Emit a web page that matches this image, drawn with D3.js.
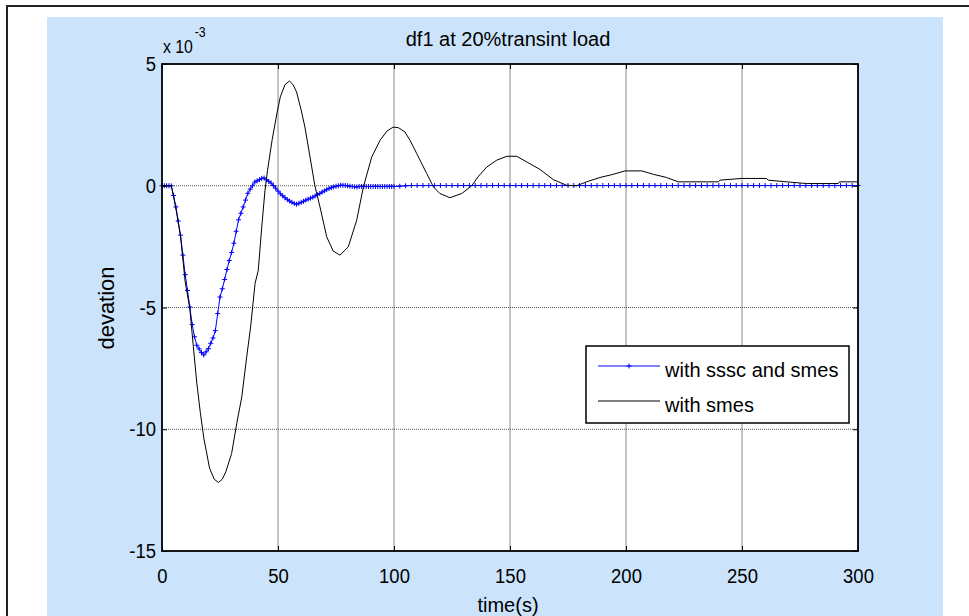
<!DOCTYPE html>
<html>
<head>
<meta charset="utf-8">
<script src="https://cdn.jsdelivr.net/npm/d3@7"></script>
<style>
  html, body { margin: 0; padding: 0; background: #ffffff; }
  svg { display: block; }
  text { font-family: "Liberation Sans", Arial, Helvetica, sans-serif; fill: #000; }
</style>
</head>
<body>
<script>
// ---------------- DATA (deviation in units of 1e-3) ----------------
const chartTitle = "df1 at 20%transint load";
const xLabel = "time(s)";
const yLabel = "devation";
const xTicks = [0, 50, 100, 150, 200, 250, 300];
const yTicks = [5, 0, -5, -10, -15];
const seriesNames = ["with sssc and smes", "with smes"];

// series 1: with sssc and smes (1 s samples up to 100 s, then 2.5 s)
const blueTime = [0,1,2,3,4,5,6,7,8,9,10,11,12,13,14,15,16,17,18,19,20,21,22,23,24,25,26,27,28,29,30,31,32,33,34,35,36,37,38,39,40,41,42,43,44,45,46,47,48,49,50,51,52,53,54,55,56,57,58,59,60,61,62,63,64,65,66,67,68,69,70,71,72,73,74,75,76,77,78,79,80,81,82,83,84,85,86,87,88,89,90,91,92,93,94,95,96,97,98,99,100,
  102.5,105,107.5,110,112.5,115,117.5,120,122.5,125,127.5,130,132.5,135,137.5,140,142.5,145,147.5,150,152.5,155,157.5,160,162.5,165,167.5,170,172.5,175,177.5,180,182.5,185,187.5,190,192.5,195,197.5,200,202.5,205,207.5,210,212.5,215,217.5,220,222.5,225,227.5,230,232.5,235,237.5,240,242.5,245,247.5,250,252.5,255,257.5,260,262.5,265,267.5,270,272.5,275,277.5,280,282.5,285,287.5,290,292.5,295,297.5,300];
const blueDev = [0,0,0,0,0,-0.4,-0.87,-1.45,-2.03,-2.85,-3.65,-4.3,-4.98,-5.7,-6.2,-6.55,-6.7,-6.85,-6.95,-6.82,-6.69,-6.47,-6.25,-5.95,-5.25,-4.57,-4.23,-3.85,-3.44,-3.07,-2.74,-2.36,-1.87,-1.4,-1.13,-0.87,-0.59,-0.31,-0.14,0,0.15,0.2,0.25,0.3,0.32,0.25,0.18,0.11,0.01,-0.1,-0.22,-0.33,-0.41,-0.49,-0.57,-0.63,-0.68,-0.73,-0.76,-0.72,-0.68,-0.64,-0.59,-0.55,-0.51,-0.47,-0.42,-0.37,-0.32,-0.26,-0.21,-0.16,-0.11,-0.08,-0.05,-0.02,0,0.02,0.02,0.01,0,-0.02,-0.03,-0.04,-0.05,-0.03,-0.03,-0.03,-0.03,-0.03,-0.03,-0.03,-0.03,-0.03,-0.03,-0.03,-0.03,-0.03,-0.03,-0.03,-0.03,
  -0.02,0,0.01,0.01,0.01,0.01,0.01,0.01,0.01,0.01,0.01,0.01,0.01,0.01,0.01,0.01,0.01,0.01,0.01,0.01,0.01,0.01,0.01,0.01,0.01,0.01,0.01,0.01,0.01,0.01,0.01,0.01,0.01,0.01,0.01,0.01,0.01,0.01,0.01,0.01,0.01,0.01,0.01,0.01,0.01,0.01,0.01,0.01,0.01,0.01,0.01,0.01,0.01,0.01,0.01,0.01,0.01,0.01,0.01,0.01,0.01,0.01,0.01,0.01,0.01,0.01,0.01,0.01,0.01,0.01,0.01,0.01,0.01,0.01,0.01,0.01,0.01,0.01,0.01,0.01];

// series 2: with smes
const blackTime = [0,4,6,8,10,12,13.5,15,16.5,18,20.5,22.5,24.3,26,27.5,30,32.2,34.4,36.5,38.2,40.1,41.5,43,44.4,45.5,47.5,49.5,51,53,54.9,56.5,58,60,61.6,63.8,65.9,68.1,71,73.8,76.7,80.3,83.9,86.8,90.4,94,97,99.7,102,104.7,107,109.8,114.1,117,119.8,124.1,129.2,133.5,136.5,140,144.3,148.6,152.9,157.2,162.9,168.7,174.4,178.7,183,188.8,194.5,199.6,206.8,211.8,217.5,222.5,239.8,240.5,249.9,260.6,261.3,269.3,277.9,291.5,292,300];
const blackDev = [0,0,-0.94,-2.1,-3.95,-5.05,-6.6,-8.1,-9.3,-10.35,-11.6,-12.05,-12.19,-12.05,-11.75,-11.0,-9.77,-8.67,-7.03,-5.8,-4.02,-3.47,-1.69,-0.18,0.64,1.9,2.95,3.65,4.15,4.3,4.15,3.85,3.1,2.41,1.18,0,-0.87,-2.1,-2.68,-2.85,-2.51,-1.42,-0.05,1.18,1.87,2.25,2.41,2.38,2.21,1.85,1.32,0.5,-0.05,-0.32,-0.49,-0.32,0,0.4,0.77,1.05,1.21,1.21,0.98,0.67,0.25,0.02,0,0.16,0.34,0.47,0.61,0.61,0.47,0.34,0.16,0.16,0.23,0.3,0.3,0.23,0.16,0.09,0.09,0.16,0.16];

// ---------------- DRAWING ----------------
const W = 969, H = 616;
const svg = d3.select("body").append("svg").attr("width", W).attr("height", H);

// outer figure frame
svg.append("rect").attr("x", 7).attr("y", 6).attr("width", 1000).attr("height", 1000)
  .attr("fill", "#ffffff").attr("stroke", "#222").attr("stroke-width", 2);

// light blue figure panel
svg.append("rect").attr("x", 47).attr("y", 17).attr("width", 896).attr("height", 620)
  .attr("fill", "#cbe4fb");

const x = d3.scaleLinear().domain([0, 300]).range([162, 858]);
const y = d3.scaleLinear().domain([-15, 5]).range([551, 64]);

// plot background
svg.append("rect").attr("x", x(0)).attr("y", y(5))
  .attr("width", x(300) - x(0)).attr("height", y(-15) - y(5)).attr("fill", "#ffffff");

// grid lines
const grid = svg.append("g");
grid.selectAll("line.vg").data(xTicks.filter(d => d > 0 && d < 300)).join("line")
  .attr("x1", d => x(d)).attr("x2", d => x(d)).attr("y1", y(5)).attr("y2", y(-15))
  .attr("stroke", "#8a8a8a").attr("stroke-width", 1);
grid.selectAll("line.hg").data(yTicks.filter(d => d < 5 && d > -15)).join("line")
  .attr("x1", x(0)).attr("x2", x(300)).attr("y1", d => y(d)).attr("y2", d => y(d))
  .attr("stroke", "#555").attr("stroke-width", 1).attr("stroke-dasharray", "1,1");

// series
const line = d3.line().x(d => x(d[0])).y(d => y(d[1]));
const blueData = blueTime.map((t, i) => [t, blueDev[i]]);
const blackData = blackTime.map((t, i) => [t, blackDev[i]]);

svg.append("path").datum(blueData).attr("d", line)
  .attr("fill", "none").attr("stroke", "#0000ff").attr("stroke-width", 1);
const ms = 2.5;
svg.append("path")
  .attr("d", blueData.map(d => {
    const px = x(d[0]), py = y(d[1]);
    return `M${px - ms},${py}H${px + ms}M${px},${py - ms}V${py + ms}`;
  }).join(""))
  .attr("fill", "none").attr("stroke", "#0000ff").attr("stroke-width", 1);

svg.append("path").datum(blackData).attr("d", line)
  .attr("fill", "none").attr("stroke", "#000000").attr("stroke-width", 1);

// axes
const fmt = d => String(d);
const cond = 0.88; // horizontal condensing of tick text
const axB = svg.append("g").attr("transform", `translate(0,${y(-15)})`)
  .call(d3.axisBottom(x).tickValues(xTicks).tickFormat(fmt).tickSizeInner(-5).tickSizeOuter(0).tickPadding(17));
const axL = svg.append("g").attr("transform", `translate(${x(0)},0)`)
  .call(d3.axisLeft(y).tickValues(yTicks).tickFormat(fmt).tickSizeInner(-5).tickSizeOuter(0).tickPadding(6));
const axT = svg.append("g").attr("transform", `translate(0,${y(5)})`)
  .call(d3.axisTop(x).tickValues(xTicks).tickFormat("").tickSizeInner(-5).tickSizeOuter(0));
const axR = svg.append("g").attr("transform", `translate(${x(300)},0)`)
  .call(d3.axisRight(y).tickValues(yTicks).tickFormat("").tickSizeInner(-5).tickSizeOuter(0));
[axB, axL, axT, axR].forEach(a => {
  a.select(".domain").remove();
  a.selectAll(".tick line").attr("stroke", "#000");
  a.selectAll(".tick text").style("font-size", "21px")
    .style("font-family", '"Liberation Sans", Arial, sans-serif').attr("fill", "#000")
    .attr("transform", `scale(${cond},1)`);
});
axL.selectAll(".tick text").attr("x", -6 / cond);

// axes box
svg.append("rect").attr("x", x(0)).attr("y", y(5))
  .attr("width", x(300) - x(0)).attr("height", y(-15) - y(5))
  .attr("fill", "none").attr("stroke", "#000").attr("stroke-width", 1.8);

// title
svg.append("text").attr("x", 508).attr("y", 46).attr("text-anchor", "middle")
  .style("font-size", "20px").text(chartTitle);

// exponent label
const ex = svg.append("text").attr("transform", `translate(163,53) scale(${cond},1)`)
  .style("font-size", "18px");
ex.append("tspan").text("x 10");
ex.append("tspan").attr("dy", -16).attr("dx", 2).style("font-size", "14px").text("-3");

// axis labels
svg.append("text").attr("x", 508).attr("y", 612).attr("text-anchor", "middle")
  .style("font-size", "20px").text(xLabel);
svg.append("text").attr("transform", "translate(114,308) rotate(-90)").attr("text-anchor", "middle")
  .style("font-size", "22px").text(yLabel);

// legend
const lg = svg.append("g");
lg.append("rect").attr("x", 586).attr("y", 346).attr("width", 263).attr("height", 77)
  .attr("fill", "#ffffff").attr("stroke", "#000").attr("stroke-width", 1.5);
const legendRows = [
  { name: seriesNames[0], color: "#0000ff", marker: true, ly: 366 },
  { name: seriesNames[1], color: "#000000", marker: false, ly: 401 }
];
legendRows.forEach(r => {
  lg.append("line").attr("x1", 598).attr("x2", 660).attr("y1", r.ly).attr("y2", r.ly)
    .attr("stroke", r.color).attr("stroke-width", 1);
  if (r.marker) {
    lg.append("path").attr("d", `M${629 - ms},${r.ly}H${629 + ms}M629,${r.ly - ms}V${r.ly + ms}`)
      .attr("stroke", r.color).attr("stroke-width", 1);
  }
  lg.append("text").attr("x", 665).attr("y", r.ly + 11).style("font-size", "20px").text(r.name);
});
</script>
</body>
</html>
